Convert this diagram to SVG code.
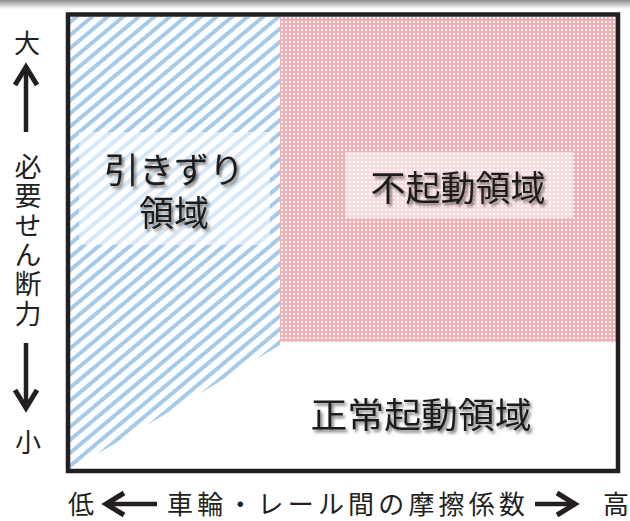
<svg xmlns="http://www.w3.org/2000/svg" width="630" height="521" viewBox="0 0 630 521">
<defs>
  <linearGradient id="topband" x1="0" y1="0" x2="0" y2="1">
    <stop offset="0" stop-color="#8e8e8e"/>
    <stop offset="1" stop-color="#ffffff"/>
  </linearGradient>
  <pattern id="hatch" patternUnits="userSpaceOnUse" width="10" height="10" patternTransform="rotate(-40)">
    <rect x="0" y="0" width="10" height="10" fill="#ffffff"/>
    <rect x="0" y="0" width="10" height="4" fill="#a6cbe8"/>
  </pattern>
  <pattern id="dots" patternUnits="userSpaceOnUse" width="4" height="4">
    <rect x="0" y="0" width="4" height="4" fill="#f6adb1"/>
    <rect x="1" y="1" width="2" height="2" fill="#ffffff"/>
  </pattern>
  <filter id="shadow" x="-10%" y="-20%" width="130%" height="150%">
    <feDropShadow dx="2" dy="2.5" stdDeviation="1.6" flood-color="#000000" flood-opacity="0.55"/>
  </filter>
  <style>
    .lbl { font-family: "Noto Sans CJK JP", "Noto Sans", sans-serif; fill: #1e1e1e; text-anchor: middle; }
    .big { font-size: 35px; filter: url(#shadow); }
    .axis { font-family: "Noto Sans CJK JP", "Noto Sans", sans-serif; fill: #231f20; font-size: 26px; text-anchor: middle; }
    .vert { font-family: "Noto Sans CJK JP", "Noto Sans", sans-serif; fill: #231f20; font-size: 27px; writing-mode: vertical-rl; letter-spacing: 2.4px; }
    .arr { fill: none; stroke: #231f20; stroke-width: 4.5; }
    .head { fill: none; stroke: #231f20; stroke-width: 5; stroke-linejoin: miter; stroke-miterlimit: 10; }
    .box { fill: #ffffff; opacity: 0.55; }
  </style>
</defs>

<rect x="0" y="0" width="630" height="521" fill="#ffffff"/>
<rect x="0" y="0" width="630" height="9" fill="url(#topband)"/>

<g id="drag-region">
  <path d="M70,17 L280,17 L280,345 C230,375 150,425 70,469 Z" fill="url(#hatch)"/>
  <rect class="box" x="79" y="132" width="191" height="113"/>
  <text class="lbl big"><tspan x="174" y="183">引きずり</tspan><tspan x="174" y="226">領域</tspan></text>
</g>

<g id="no-start-region">
  <rect x="280" y="17" width="336" height="325" fill="url(#dots)"/>
  <rect class="box" x="345" y="152" width="228" height="66"/>
  <text class="lbl big" x="458" y="201">不起動領域</text>
</g>

<g id="normal-start-region">
  <text class="lbl big" x="421" y="428" textLength="221" lengthAdjust="spacingAndGlyphs">正常起動領域</text>
</g>

<g id="frame">
  <rect x="68" y="14.5" width="550" height="456.5" fill="none" stroke="#231f20" stroke-width="4.5"/>
</g>

<g id="y-axis">
  <text class="axis" x="27" y="53">大</text>
  <line class="arr" x1="26" y1="67" x2="26" y2="132"/>
  <polyline class="head" points="15,85 26,67 37,85"/>
  <text class="vert" x="28" y="153">必要せん断力</text>
  <line class="arr" x1="26" y1="343" x2="26" y2="408"/>
  <polyline class="head" points="15,390 26,408 37,390"/>
  <text class="axis" x="28" y="452">小</text>
</g>

<g id="x-axis">
  <text class="axis" x="81" y="514">低</text>
  <line class="arr" x1="107" y1="504" x2="157" y2="504"/>
  <polyline class="head" points="124,493 106,504 124,515"/>
  <text class="axis" x="346" y="514" textLength="358" lengthAdjust="spacing">車輪・レール間の摩擦係数</text>
  <line class="arr" x1="535" y1="504" x2="574" y2="504"/>
  <polyline class="head" points="557,493 575,504 557,515"/>
  <text class="axis" x="616" y="514">高</text>
</g>
</svg>
